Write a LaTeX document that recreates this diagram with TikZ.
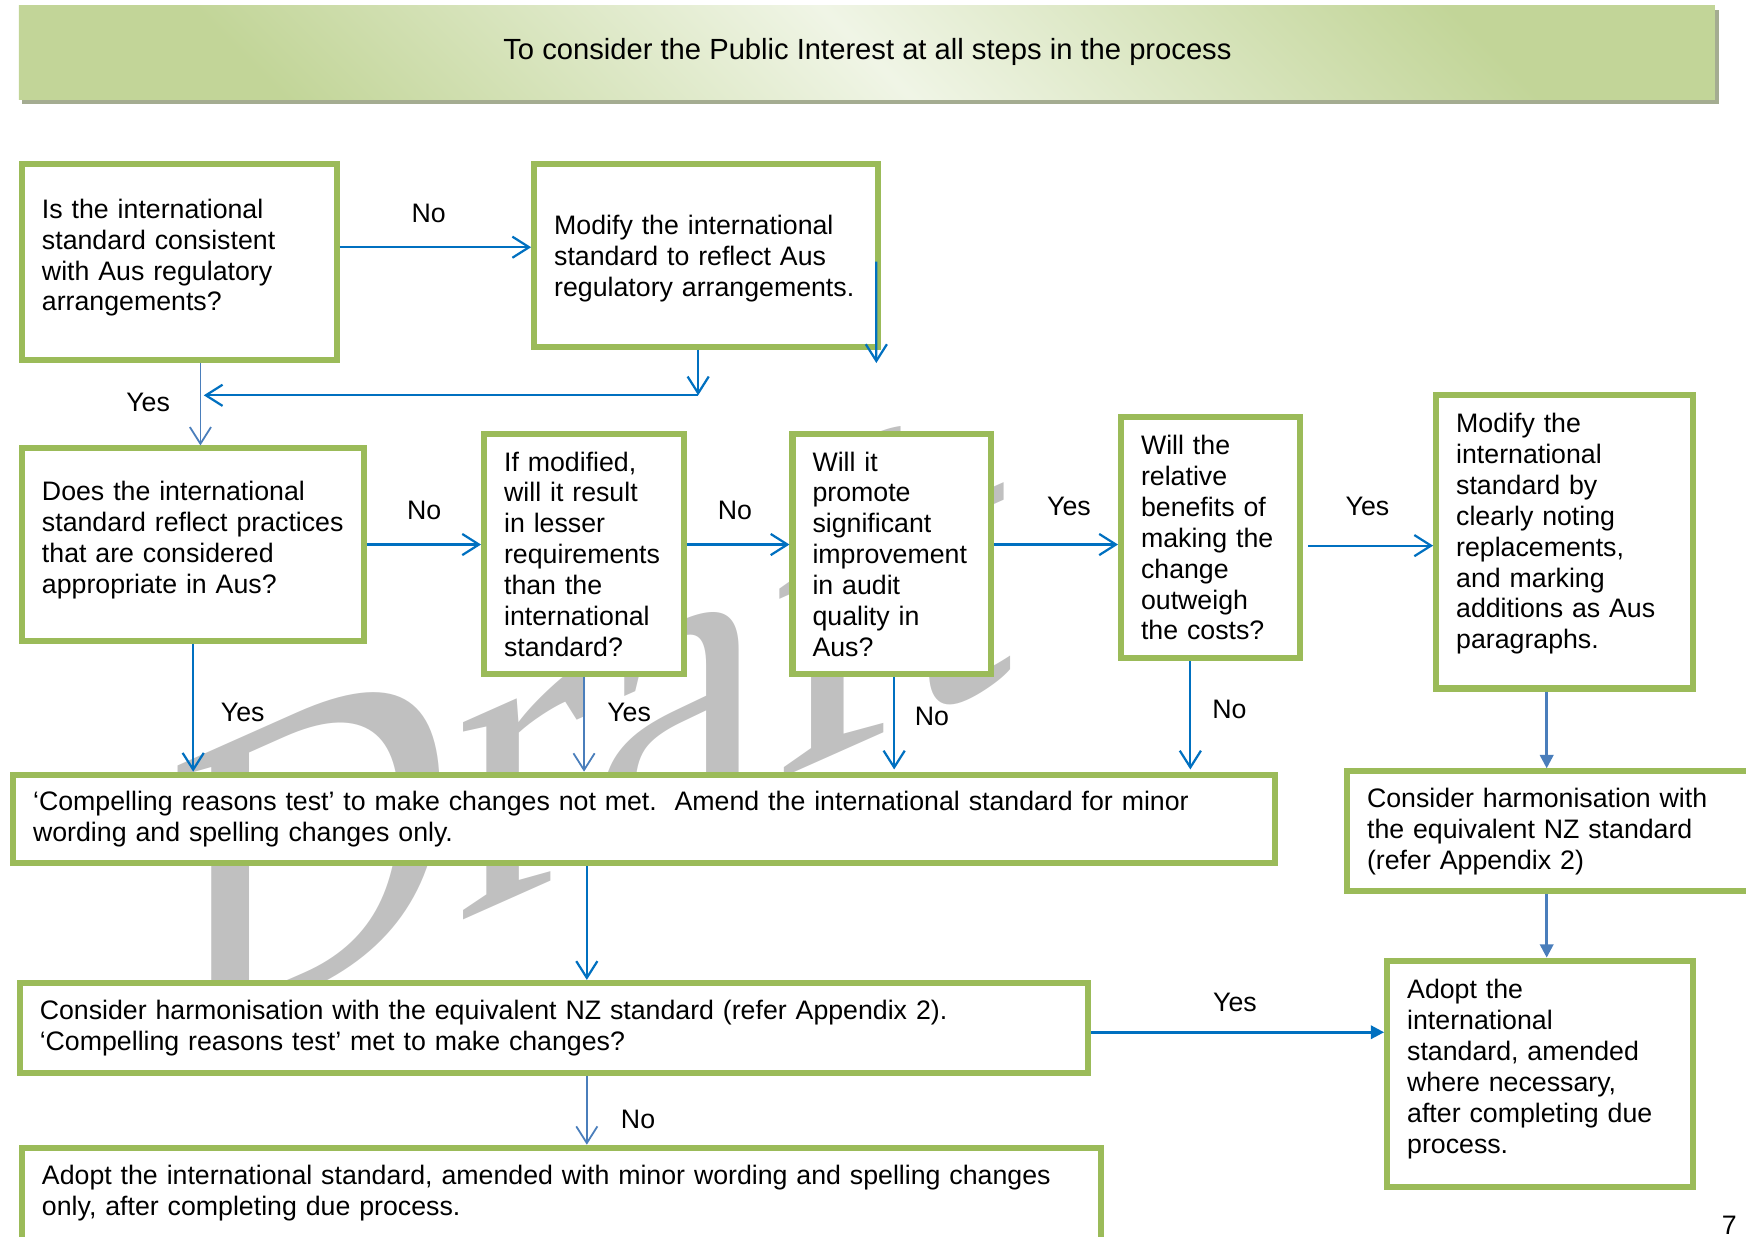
\documentclass[tikz,border=0pt]{standalone}
\usepackage{fontspec}
\setmainfont{Liberation Sans}
\newfontfamily\wmfont{Liberation Serif}
\usepackage{xcolor}
\definecolor{boxgreen}{RGB}{155,187,89}
\definecolor{arrblue}{RGB}{0,112,192}
\definecolor{arrsteel}{RGB}{74,126,187}
\definecolor{bannerlight}{RGB}{240,245,230}
\definecolor{bannergreen}{RGB}{194,213,152}
\definecolor{bannershadow}{RGB}{164,172,145}
\definecolor{wmgray}{RGB}{192,192,192}
\usetikzlibrary{arrows.meta, calc}
\hyphenpenalty=10000
% extra space under the last line of a box
\newcommand{\lift}[1]{\par\vspace{#1}\hrule height 0pt}

\begin{document}
\begin{tikzpicture}[x=0.5pt, y=-0.5pt,
  gbox/.style={draw=boxgreen, line width=2.7pt, fill=white, inner xsep=9pt, inner ysep=0pt,
    align=left, font=\fontsize{12}{13.85}\selectfont},
  lbl/.style={font=\fontsize{12}{13.85}\selectfont, inner sep=0pt},
  oarrow/.style={arrblue, line width=1pt, -{Straight Barb[length=7.5pt, width=9.5pt]}},
  larrow/.style={oarrow, arrsteel, line width=0.8pt},
  farrow/.style={arrblue, line width=1.2pt, -{Triangle[length=6pt, width=6pt]}}]
  \useasboundingbox (0,0) rectangle (1568,1110);

  % --- Banner ---
  \fill[bannershadow] (20,9) rectangle (1544,93);
  \shade[top color=bannergreen, bottom color=bannergreen, middle color=bannerlight, shading angle=-45]
    (17,5) rectangle (1540,89);
  \node[lbl, font=\fontsize{13.1}{15}\selectfont] (banner) at (779,47)
    {To consider the Public Interest at all steps in the process};

  % --- Watermark ---
  \begin{scope}[shift={(149,945)}, cm={0.933,0.415,0,1,(0,0)}]
    \node[transform shape, anchor=base west, inner sep=0pt, text=wmgray,
      font=\wmfont\fontsize{193}{193}\selectfont] (wm) at (0,0) {Draft};
  \end{scope}

  % --- Top row ---
  \node[gbox, minimum width=141.3pt, minimum height=87.8pt, text width=123.3pt] (q1) at (161,235.5)
    {Is the international\\standard consistent\\with Aus regulatory\\arrangements?\lift{4pt}};
  \node[gbox, minimum width=154.3pt, minimum height=81.8pt, text width=136.3pt] (mod1) at (634,229.5)
    {Modify the international\\standard to reflect Aus\\regulatory arrangements.\lift{-2.5pt}};

  % --- Question row ---
  \node[gbox, minimum width=153.8pt, minimum height=86.3pt, text width=135.8pt] (q2) at (173.5,489)
    {Does the international\\standard reflect practices\\that are considered\\appropriate in Aus?\lift{4pt}};
  \node[gbox, minimum width=89.8pt, minimum height=107.8pt, text width=71.8pt] (q3) at (524.5,497.5)
    {If modified,\\will it result\\in lesser\\requirements\\than the\\international\\standard?};
  \node[gbox, minimum width=89.3pt, minimum height=107.8pt, text width=71.3pt] (q4) at (801,497.5)
    {Will it\\promote\\significant\\improvement\\in audit\\quality in\\Aus?};
  \node[gbox, minimum width=80.3pt, minimum height=108.3pt, text width=62.3pt] (q5) at (1087,483)
    {Will the\\relative\\benefits of\\making the\\change\\outweigh\\the costs?};
  \node[gbox, minimum width=115.3pt, minimum height=131.8pt, text width=97.3pt] (mod2) at (1405,486.5)
    {Modify the\\international\\standard by\\clearly noting\\replacements,\\and marking\\additions as Aus\\paragraphs.\lift{7pt}};

  % --- Lower boxes ---
  \node[gbox, minimum width=566.8pt, minimum height=39.8pt, text width=548.8pt] (notmet) at (578.5,735.5)
    {`Compelling reasons test' to make changes not met.~~Amend the international standard for minor\\wording and spelling changes only.};
  \node[gbox, minimum width=183.8pt, minimum height=53.8pt, text width=165.8pt] (harm2) at (1393.5,746.5)
    {Consider harmonisation with\\the equivalent NZ standard\\(refer Appendix 2)};
  \node[gbox, minimum width=479.8pt, minimum height=40.3pt, text width=461.8pt] (harm1) at (497.5,923)
    {Consider harmonisation with the equivalent NZ standard (refer Appendix 2).\\`Compelling reasons test' met to make changes?};
  \node[gbox, minimum width=137.3pt, minimum height=101.8pt, text width=119.3pt] (adopt2) at (1383,964.5)
    {Adopt the\\international\\standard, amended\\where necessary,\\after completing due\\process.\lift{4.5pt}};
  \node[gbox, minimum width=484.3pt, minimum height=45.3pt, text width=466.3pt] (adopt1) at (504,1076)
    {Adopt the international standard, amended with minor wording and spelling changes\\only, after completing due process.\lift{4.5pt}};

  % --- Connectors ---
  \coordinate (j1) at (627,355);
  \coordinate (j2) at (183,355);
  \coordinate (j3) at (787,326);
  \draw[oarrow] ([yshift=6.75pt]q1.east) coordinate (s1) -- (s1 -| mod1.west);
  \draw[oarrow] ([xshift=-3.5pt]mod1.south) -- (j1);
  \draw[oarrow] (j1) -- (j2);
  \draw[oarrow] ([xshift=-2pt,yshift=-2.75pt]mod1.east) -- (j3);
  \draw[larrow] ([xshift=9.5pt]q1.south) coordinate (s2) -- (s2 |- q2.north);
  \draw[oarrow] (q2.east) -- (q2.east -| q3.west);
  \draw[oarrow] ([yshift=4.25pt]q3.east) coordinate (s3) -- (s3 -| q4.west);
  \draw[oarrow] ([yshift=4.25pt]q4.east) coordinate (s4) -- (s4 -| q5.west);
  \draw[oarrow] ([xshift=2.5pt,yshift=-3.5pt]q5.east) coordinate (s5) -- (s5 -| mod2.west);
  \draw[oarrow] (q2.south) -- (q2.south |- notmet.north);
  \draw[larrow] (q3.south) -- (q3.south |- notmet.north);
  \draw[oarrow] ([xshift=1pt]q4.south) coordinate (s6) -- ([yshift=1pt]s6 |- notmet.north);
  \draw[oarrow] ([xshift=-9pt]q5.south) coordinate (s7) -- ([yshift=1pt]s7 |- notmet.north);
  \draw[oarrow] ([xshift=-25.75pt]notmet.south) coordinate (s8) -- (s8 |- harm1.north);
  \draw[larrow] ([xshift=14.75pt]harm1.south) coordinate (s9) -- (s9 |- adopt1.north);
  \draw[farrow] ([yshift=-2pt]harm1.east) coordinate (s10) -- (s10 -| adopt2.west);
  \draw[farrow, arrsteel] ([xshift=-8pt]mod2.south) coordinate (s11) -- (s11 |- harm2.north);
  \draw[farrow, arrsteel] ([xshift=-2.25pt]harm2.south) coordinate (s12) -- (s12 |- adopt2.north);

  % --- Labels ---
  \node[lbl] (l1) at (385,192) {No};
  \node[lbl] (l2) at (133,361) {Yes};
  \node[lbl] (l3) at (381,458) {No};
  \node[lbl] (l4) at (660,458) {No};
  \node[lbl] (l5) at (960,455) {Yes};
  \node[lbl] (l6) at (1228,455) {Yes};
  \node[lbl] (l7) at (218,640) {Yes};
  \node[lbl] (l8) at (565,640) {Yes};
  \node[lbl] (l9) at (837,643) {No};
  \node[lbl] (l10) at (1104,637) {No};
  \node[lbl] (l11) at (1109,900) {Yes};
  \node[lbl] (l12) at (573,1005) {No};
  \node[lbl, anchor=base] (pnum) at (1553,1109) {7};
\end{tikzpicture}
\end{document}
